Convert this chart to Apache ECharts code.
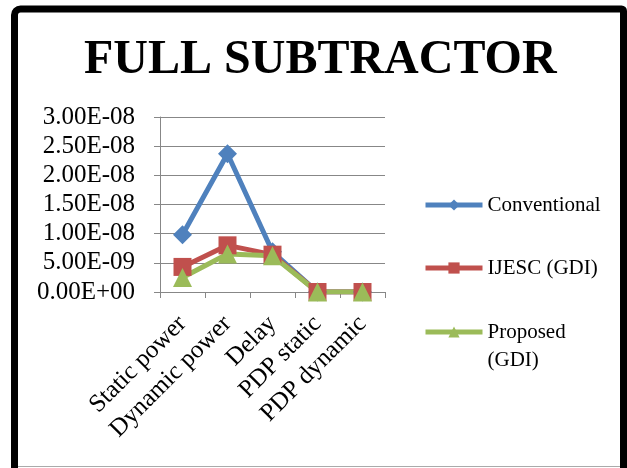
<!DOCTYPE html>
<html>
<head>
<meta charset="utf-8">
<script src="https://cdn.jsdelivr.net/npm/echarts@6/dist/echarts.min.js"></script>
<style>
  html, body { margin: 0; padding: 0; background: #fff; }
  #chart { width: 627px; height: 468px; }
</style>
</head>
<body>
<div id="chart"></div>
<script>
// Metrics compared for the three full subtractor designs
const categories = ['Static power', 'Dynamic power', 'Delay', 'PDP static', 'PDP dynamic'];
const conventional = [9.8e-9, 2.37e-8, 6.9e-9, 0, 0];
const ijescGdi = [4.3e-9, 8.0e-9, 6.4e-9, 0, 0];
const proposedGdi = [2.5e-9, 6.5e-9, 6.2e-9, 0, 0];
const seriesNames = ['Conventional', 'IJESC (GDI)', 'Proposed (GDI)'];
const yTicks = { min: 0, max: 3e-8, step: 5e-9 };

const SERIF = '"Liberation Serif", "Times New Roman", serif';
const GRID_GRAY = '#878787';

// 3.00E-08 style scientific labels
function sci(v) {
  if (v === 0) return '0.00E+00';
  const parts = v.toExponential(2).split('e');
  const exp = parseInt(parts[1], 10);
  const sign = exp < 0 ? '-' : '+';
  const mag = String(Math.abs(exp)).padStart(2, '0');
  return parts[0] + 'E' + sign + mag;
}

const colors = ['#4F81BD', '#C0504D', '#9BBB59'];
const symbols = ['diamond', 'rect', 'triangle'];
const symbolSizes = [19, 18, 19];
const values = [conventional, ijescGdi, proposedGdi];

const chart = echarts.init(document.getElementById('chart'));

// one legend block per series so each entry sits at its own height;
// the last name wraps, and its first line lines up with the icon
const LINE_H = 28;
const legendCenters = [205, 268, 332];
const legends = seriesNames.map((name, i) => ({
  data: [name],
  orient: 'vertical',
  left: 423,
  top: legendCenters[i] - (i === 2 ? LINE_H * 1.5 : LINE_H / 2),
  padding: 0,
  itemWidth: 57,
  itemHeight: 14,
  itemGap: 0,
  lineStyle: { width: 5 },
  formatter: i === 2 ? '\nProposed\n(GDI)' : '{name}',
  textStyle: {
    fontFamily: SERIF,
    fontSize: 21,
    color: '#000',
    lineHeight: LINE_H
  }
}));

chart.setOption({
  animation: false,
  backgroundColor: '#fff',
  color: colors,
  title: {
    text: 'FULL SUBTRACTOR',
    left: 84,
    top: 37,
    padding: 0,
    textStyle: {
      fontFamily: SERIF,
      fontWeight: 'bold',
      fontSize: 48,
      color: '#000'
    }
  },
  legend: legends,
  grid: { left: 160, right: 242, top: 117, bottom: 176, containLabel: false },
  xAxis: {
    type: 'category',
    data: categories,
    boundaryGap: true,
    axisLine: { lineStyle: { color: GRID_GRAY, width: 1 } },
    axisTick: { show: true, length: 6, lineStyle: { color: GRID_GRAY } },
    axisLabel: {
      rotate: 45,
      interval: 0,
      margin: 28,
      fontFamily: SERIF,
      fontSize: 25,
      color: '#000'
    },
    splitLine: { show: false }
  },
  yAxis: {
    type: 'value',
    min: yTicks.min,
    max: yTicks.max,
    interval: yTicks.step,
    axisLine: { show: true, lineStyle: { color: GRID_GRAY, width: 1 } },
    axisTick: { show: true, length: 6, lineStyle: { color: GRID_GRAY } },
    axisLabel: {
      margin: 25,
      fontFamily: SERIF,
      fontSize: 25,
      color: '#000',
      formatter: sci
    },
    splitLine: { show: true, lineStyle: { color: GRID_GRAY, width: 1 } }
  },
  series: seriesNames.map((name, i) => ({
    name: name,
    type: 'line',
    data: values[i],
    symbol: symbols[i],
    symbolSize: symbolSizes[i],
    showAllSymbol: true,
    lineStyle: { width: 5, color: colors[i] },
    itemStyle: { color: colors[i] },
    emphasis: { disabled: true }
  })),
  graphic: [
    {
      // page frame around the chart
      type: 'rect',
      shape: { x: 14.5, y: 9, width: 609, height: 480, r: [6, 2, 0, 0] },
      style: { fill: 'none', stroke: '#000', lineWidth: 7 },
      silent: true,
      z: 100
    },
    {
      type: 'line',
      shape: { x1: 18, y1: 466.5, x2: 620, y2: 466.5 },
      style: { stroke: '#aaaaaa', lineWidth: 1 },
      silent: true,
      z: 100
    }
  ]
});
</script>
</body>
</html>
